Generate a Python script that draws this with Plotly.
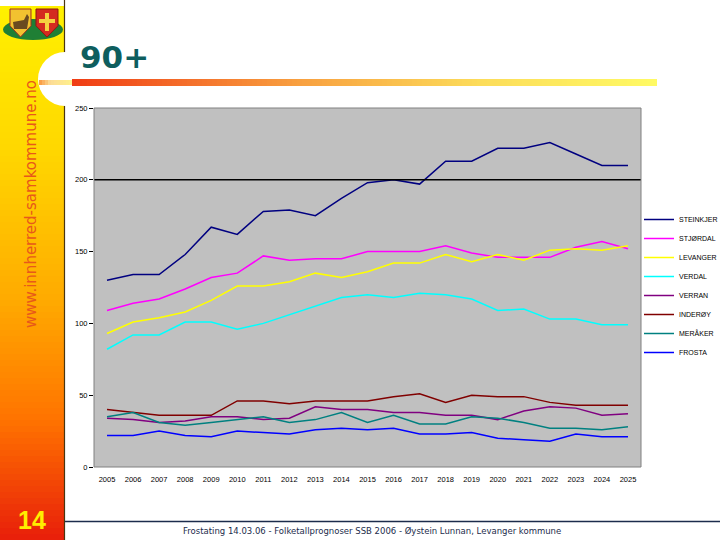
import plotly.graph_objects as go

# ---------------- data ----------------
years = list(range(2005, 2026))
series_names = ["STEINKJER", "STJØRDAL", "LEVANGER", "VERDAL", "VERRAN", "INDERØY", "MERÅKER", "FROSTA"]
steinkjer = [130, 134, 134, 148, 167, 162, 178, 179, 175, 187, 198, 200, 197, 213, 213, 222, 222, 226, 218, 210, 210]
stjordal = [109, 114, 117, 124, 132, 135, 147, 144, 145, 145, 150, 150, 150, 154, 149, 146, 146, 146, 153, 157, 152]
levanger = [93, 101, 104, 108, 116, 126, 126, 129, 135, 132, 136, 142, 142, 148, 143, 148, 144, 151, 152, 151, 154]
verdal = [82, 92, 92, 101, 101, 96, 100, 106, 112, 118, 120, 118, 121, 120, 117, 109, 110, 103, 103, 99, 99]
verran = [34, 33, 31, 32, 35, 35, 33, 34, 42, 40, 40, 38, 38, 36, 36, 33, 39, 42, 41, 36, 37]
inderoy = [40, 38, 36, 36, 36, 46, 46, 44, 46, 46, 46, 49, 51, 45, 50, 49, 49, 45, 43, 43, 43]
meraker = [35, 38, 31, 29, 31, 33, 35, 31, 33, 38, 31, 36, 30, 30, 35, 34, 31, 27, 27, 26, 28]
frosta = [22, 22, 25, 22, 21, 25, 24, 23, 26, 27, 26, 27, 23, 23, 24, 20, 19, 18, 23, 21, 21]
y_ticks = [0, 50, 100, 150, 200, 250]
reference_level = 200

series_values = [steinkjer, stjordal, levanger, verdal, verran, inderoy, meraker, frosta]
series_colors = ["#000080", "#FF00FF", "#FFFF00", "#00FFFF", "#800080", "#800000", "#008080", "#0000FF"]

title_text = "90+"
url_text = "www.innherred-samkommune.no"
footer_text = "Frostating 14.03.06 - Folketallprognoser SSB 2006 - Øystein Lunnan, Levanger kommune"
page_no = "14"

# ---------------- layout geometry (pixels) ----------------
W, H = 720, 540
L, R, T, B = 94, 79, 108, 73
PW, PH = W - L - R, H - T - B


def px(x):
    return (x - L) / PW


def py(y):
    return (H - B - y) / PH


def lerp(c1, c2, t):
    return tuple(int(round(a + (b - a) * t)) for a, b in zip(c1, c2))


def grad(stops, v):
    for (p1, c1), (p2, c2) in zip(stops, stops[1:]):
        if p1 <= v <= p2:
            return lerp(c1, c2, (v - p1) / (p2 - p1) if p2 > p1 else 0)
    return stops[-1][1]


def rgb(c):
    return "rgb(%d,%d,%d)" % c


fig = go.Figure()

for name, vals, col in zip(series_names, series_values, series_colors):
    fig.add_trace(go.Scatter(x=years, y=vals, name=name, mode="lines",
                             line=dict(color=col, width=1.5)))

fig.add_hline(y=reference_level, line=dict(color="black", width=1.5))

shapes = []

# left gradient bar
bar_stops = [(0, (255, 242, 0)), (150, (255, 215, 0)), (300, (255, 170, 0)),
             (420, (255, 115, 0)), (540, (232, 30, 10))]
step = 6
for y0 in range(0, H, step):
    c = grad(bar_stops, y0 + step / 2)
    shapes.append(dict(type="rect", xref="paper", yref="paper",
                       x0=px(0), x1=px(64), y0=py(y0), y1=py(min(H, y0 + step + 1)),
                       fillcolor=rgb(c), line=dict(width=0), layer="above"))
# dark right edge of bar
shapes.append(dict(type="line", xref="paper", yref="paper", x0=px(64.5), x1=px(64.5),
                   y0=py(0), y1=py(H), line=dict(color="#4a3510", width=1.2), layer="above"))
# white circle notch
shapes.append(dict(type="circle", xref="paper", yref="paper", x0=px(38), x1=px(92),
                   y0=py(52), y1=py(106), fillcolor="white", line=dict(width=0), layer="above"))

# title underline gradient
ul_stops = [(72, (240, 60, 20)), (300, (248, 160, 64)), (480, (252, 220, 90)), (657, (255, 250, 100))]
for x0 in range(72, 657, 5):
    c = grad(ul_stops, x0 + 2.5)
    shapes.append(dict(type="rect", xref="paper", yref="paper", x0=px(x0), x1=px(min(657, x0 + 6)),
                       y0=py(79), y1=py(86), fillcolor=rgb(c), line=dict(width=0), layer="above"))
tip_stops = [(39, (250, 150, 60)), (50, (252, 220, 150)), (72, (255, 240, 140))]
for x0 in range(39, 72, 3):
    c = grad(tip_stops, x0 + 1.5)
    shapes.append(dict(type="rect", xref="paper", yref="paper", x0=px(x0), x1=px(min(72, x0 + 4)),
                       y0=py(80), y1=py(85), fillcolor=rgb(c), line=dict(width=0), layer="above"))

# footer line
shapes.append(dict(type="line", xref="paper", yref="paper", x0=px(65), x1=px(720),
                   y0=py(521.5), y1=py(521.5), line=dict(color="#1c2c4c", width=1.5), layer="above"))

# plot border
shapes.append(dict(type="rect", xref="paper", yref="paper", x0=0, x1=1, y0=0, y1=1,
                   line=dict(color="#808080", width=1), layer="above"))

# logo: green ellipse + two shields
shapes.append(dict(type="circle", xref="paper", yref="paper", x0=px(3), x1=px(63),
                   y0=py(19), y1=py(40), fillcolor="#1f7f35", line=dict(width=0), layer="above"))


def shield(xa, xb, ya, yb):
    xm = (xa + xb) / 2
    pts = [(xa, ya), (xb, ya), (xb, ya + (yb - ya) * 0.6), (xm, yb), (xa, ya + (yb - ya) * 0.6)]
    d = "M " + " L ".join("%f,%f" % (px(a), py(b)) for a, b in pts) + " Z"
    return d


shapes.append(dict(type="path", xref="paper", yref="paper", path=shield(10, 31, 9, 37),
                   fillcolor="#f2c230", line=dict(color="#a03020", width=1), layer="above"))
shapes.append(dict(type="path", xref="paper", yref="paper", path=shield(36, 58, 9, 37),
                   fillcolor="#d42a20", line=dict(color="#8a1a10", width=1), layer="above"))
# cross on right shield
shapes.append(dict(type="rect", xref="paper", yref="paper", x0=px(45), x1=px(49), y0=py(13), y1=py(31),
                   fillcolor="#f5d040", line=dict(width=0), layer="above"))
shapes.append(dict(type="rect", xref="paper", yref="paper", x0=px(39), x1=px(55), y0=py(19), y1=py(23),
                   fillcolor="#f5d040", line=dict(width=0), layer="above"))
# horse silhouette (simple)
shapes.append(dict(type="path", xref="paper", yref="paper",
                   path="M %f,%f L %f,%f L %f,%f L %f,%f L %f,%f L %f,%f Z" % (
                       px(13), py(22), px(24), py(20), px(27), py(14), px(29), py(17),
                       px(27), py(29), px(14), py(29)),
                   fillcolor="#6a4a20", line=dict(width=0), layer="above"))

annotations = [
    dict(text="<b>" + title_text + "</b>", xref="paper", yref="paper", x=px(114), y=py(57), showarrow=False,
         font=dict(family="DejaVu Sans", size=31, color="#0e5e5e"), xanchor="center", yanchor="middle"),
    dict(text=url_text, xref="paper", yref="paper", x=px(31), y=py(204), showarrow=False, textangle=-90,
         font=dict(family="DejaVu Sans", size=15, color="#e8581a"), xanchor="center", yanchor="middle"),
    dict(text=footer_text, xref="paper", yref="paper", x=px(372), y=py(531), showarrow=False,
         font=dict(family="DejaVu Sans", size=8.5, color="#1c2c4c"), xanchor="center", yanchor="middle"),
    dict(text="<b>" + page_no + "</b>", xref="paper", yref="paper", x=px(32), y=py(520), showarrow=False,
         font=dict(family="Liberation Sans", size=25, color="#ffee00"), xanchor="center", yanchor="middle"),
]

fig.update_layout(
    width=W, height=H,
    margin=dict(l=L, r=R, t=T, b=B, autoexpand=False),
    paper_bgcolor="white",
    plot_bgcolor="#C0C0C0",
    showlegend=True,
    legend=dict(x=px(639), y=py(286), xanchor="left", yanchor="middle",
                font=dict(family="Liberation Sans", size=7, color="black"),
                bgcolor="rgba(0,0,0,0)", borderwidth=0, itemwidth=30),
    xaxis=dict(range=[2004.5, 2025.5], tickmode="array", tickvals=years,
               ticktext=[str(y) for y in years], showgrid=False, zeroline=False, showline=False,
               ticks="", ticklabelstandoff=6,
               tickfont=dict(family="Liberation Sans", size=7.5, color="black")),
    yaxis=dict(range=[0, 250], tickmode="array", tickvals=y_ticks, showgrid=False, zeroline=False,
               showline=False, ticks="outside", ticklen=4, tickcolor="black", tickwidth=1,
               tickfont=dict(family="Liberation Sans", size=7.5, color="black")),
    shapes=shapes,
    annotations=annotations,
)

fig.write_html("out.html", config={"displayModeBar": False},
               post_script="document.body.style.margin='0';document.body.style.padding='0';"
                           "document.body.style.overflow='hidden';")
